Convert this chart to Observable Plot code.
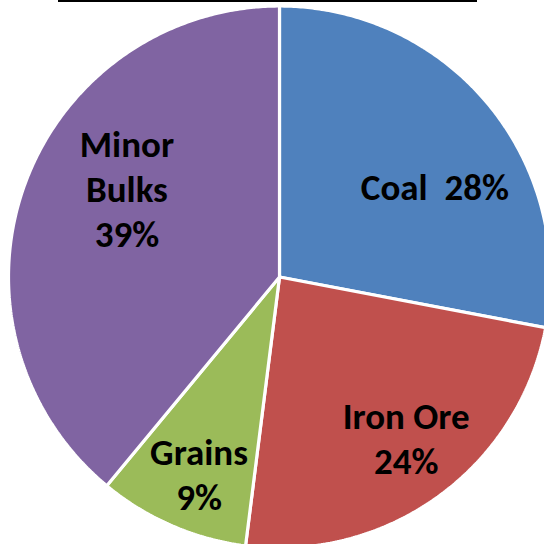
<!DOCTYPE html>
<html>
<head>
<meta charset="utf-8">
<script src="https://cdn.jsdelivr.net/npm/d3@7"></script>
<script src="https://cdn.jsdelivr.net/npm/@observablehq/plot@0.6"></script>
<style>
  html, body { margin: 0; padding: 0; background: #fff; overflow: hidden; }
  #wrap { position: relative; width: 544px; height: 544px; }
  #topline { position: absolute; left: 58px; top: 0; width: 419px; height: 2px; background: #000; }
</style>
</head>
<body>
<div id="wrap"><div id="topline"></div></div>
<script>
// Data
const categories = ["Coal", "Iron Ore", "Grains", "Minor Bulks"];
const shares = [28, 24, 9, 39];
const labels = ["Coal  28%", "Iron Ore\n24%", "Grains\n9%", "Minor\nBulks\n39%"];
const colors = ["#4F81BD", "#C0504D", "#9BBB59", "#8064A2"];

// Pie layout (clockwise from 12 o'clock, in data order)
const pie = d3.pie().sort(null).value(d => d.value);
const arcs = pie(categories.map((c, i) => ({category: c, value: shares[i], label: labels[i]})));

// polygon vertices for each slice in unit-circle coordinates
const polys = [];
for (const a of arcs) {
  const cat = a.data.category;
  polys.push({category: cat, x: 0, y: 0});
  const n = Math.max(2, Math.ceil((a.endAngle - a.startAngle) / (Math.PI / 360)));
  for (let k = 0; k <= n; k++) {
    const t = a.startAngle + (a.endAngle - a.startAngle) * k / n;
    polys.push({category: cat, x: Math.sin(t), y: Math.cos(t)});
  }
}

// label anchor at mid-angle
const lr = 0.72;
const labelData = arcs.map(a => {
  const m = (a.startAngle + a.endAngle) / 2;
  return {category: a.data.category, label: a.data.label, x: lr * Math.sin(m), y: lr * Math.cos(m)};
});

const cx = 279, cy = 276.5, R = 271;
const nudges = {"Coal": [5, 33], "Iron Ore": [12, 2], "Grains": [-3, 17], "Minor Bulks": [31, -23]};

const textMarks = categories.map(c => Plot.text(labelData.filter(d => d.category === c), {
  x: "x", y: "y", text: "label",
  dx: nudges[c][0], dy: nudges[c][1],
  fontSize: 37, fontWeight: "bold", fill: "#000",
  lineHeight: 1.22, textAnchor: "middle"
}));

const chart = Plot.plot({
  width: 544, height: 544,
  margin: 0,
  style: {fontFamily: "Carlito, Calibri, Lato, sans-serif", background: "transparent", overflow: "hidden"},
  x: {domain: [-1, 1], range: [cx - R, cx + R], axis: null},
  y: {domain: [-1, 1], range: [cy + R, cy - R], axis: null},
  color: {domain: categories, range: colors},
  marks: [
    Plot.line(polys, {x: "x", y: "y", z: "category", fill: "category", stroke: "#fff", strokeWidth: 3.2, curve: "linear-closed", strokeLinejoin: "miter"}),
    ...textMarks
  ]
});
document.getElementById("wrap").appendChild(chart);
</script>
</body>
</html>
